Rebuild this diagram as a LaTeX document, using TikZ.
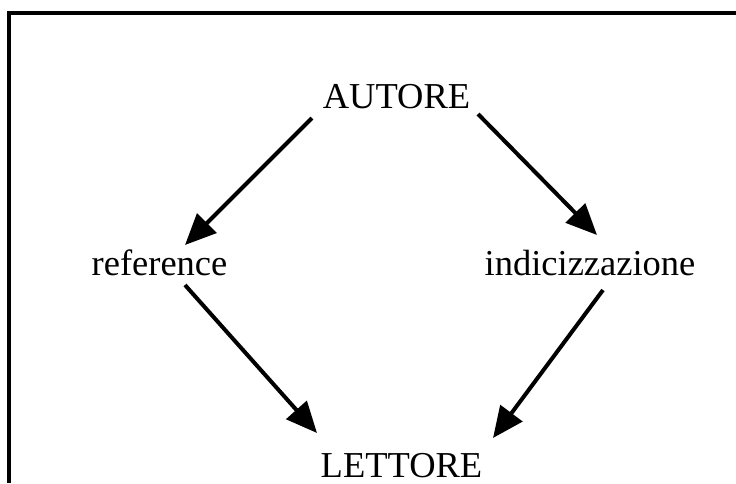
\documentclass[tikz,border=0pt]{standalone}
\usepackage{fontspec}
\setmainfont{Liberation Serif}
\usetikzlibrary{arrows.meta}
\begin{document}
\begin{tikzpicture}[x=1pt,y=-1pt,
  lbl/.style={inner sep=0pt,anchor=base,font=\fontsize{36.5}{40}\selectfont},
  conn/.style={line width=4pt,-{Triangle[length=31pt,width=27pt]}},
  frame/.style={line width=4pt}]
\useasboundingbox (0,0) rectangle (736,483);
\draw[frame] (9,483) -- (9,13) -- (736,13);
\node[lbl] (aut) at (396.5,108) {AUTORE};
\node[lbl] (ref) at (159.5,275) {reference};
\node[lbl] (ind) at (590,275) {indicizzazione};
\node[lbl] (let) at (401.5,477) {LETTORE};
\draw[conn] ([shift={(-84.5,10)}]aut.base) -- ([shift={(25.5,-30)}]ref.base);
\draw[conn] ([shift={(81.5,6)}]aut.base) -- ([shift={(7,-40)}]ind.base);
\draw[conn] ([shift={(25.5,10)}]ref.base) -- ([shift={(-84.5,-44)}]let.base);
\draw[conn] ([shift={(13,15)}]ind.base) -- ([shift={(91.5,-39)}]let.base);
\end{tikzpicture}
\end{document}
